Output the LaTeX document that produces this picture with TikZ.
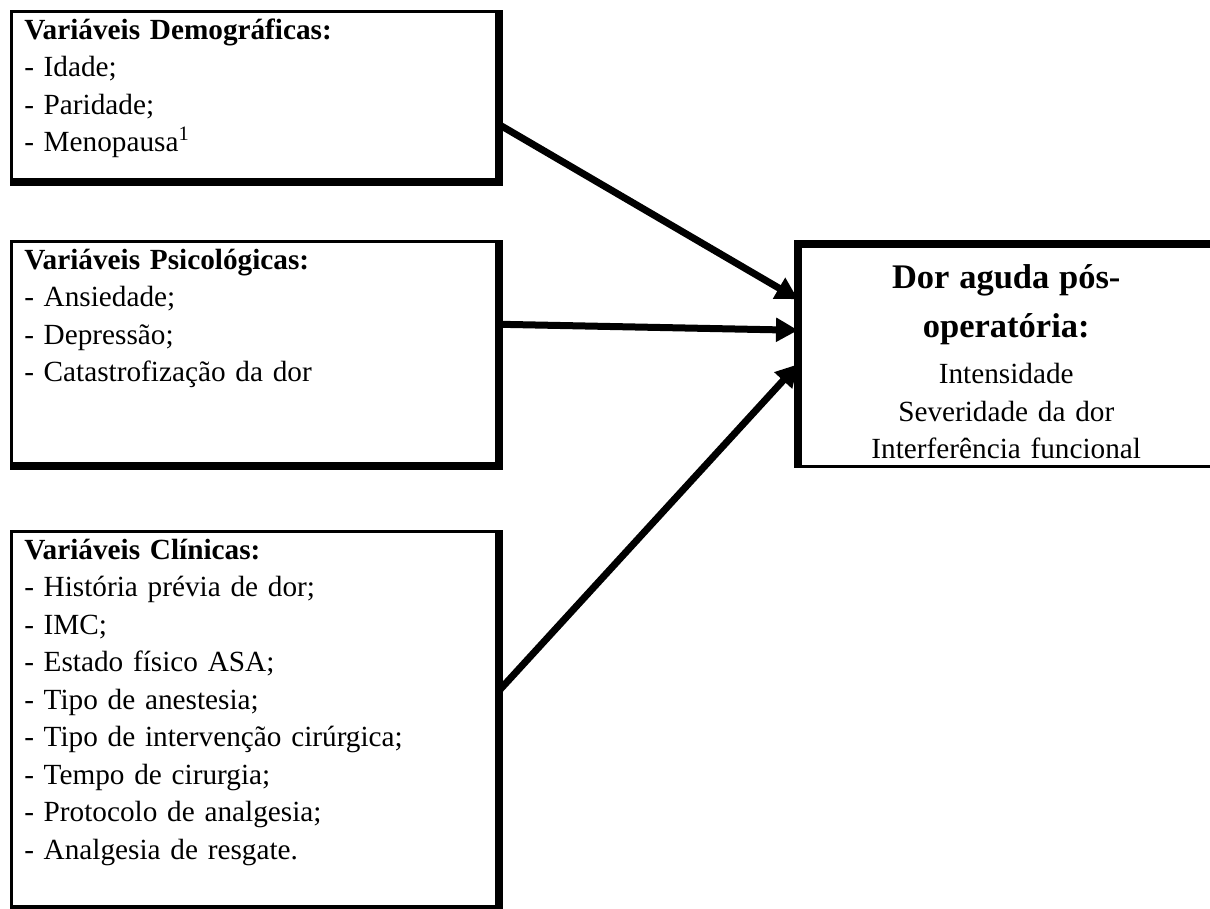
\documentclass[tikz,border=0pt]{standalone}
\usepackage{fontspec}
\setmainfont{Liberation Serif}[WordSpace=0.7]
\usetikzlibrary{arrows.meta}

\tikzset{
  varbox/.style={draw, line width=1pt, anchor=north west, inner sep=0pt, inner xsep=5.2pt,
    text width=184pt, text height=11.2pt, font=\fontsize{11.7}{15}\selectfont},
  dorbox/.style={draw, line width=1pt, anchor=north west, inner sep=0pt,
    text width=165.6pt, text height=17.2pt, text depth=71.2pt,
    font=\fontsize{11.7}{15}\selectfont},
  shadowline/.style={line width=3.2pt},
  seta/.style={line width=2.8pt, -{Triangle[length=8.8pt,width=9.2pt]}}
}

\begin{document}
\begin{tikzpicture}[x=0.4pt, y=-0.4pt]
            \useasboundingbox (0,0) rectangle (1210,908);
            \node[varbox, text depth=56.4pt] (demo) at (10,10)
                {\textbf{Variáveis Demográficas:}\\- Idade;\\- Paridade;\\- Menopausa\textsuperscript{1}};
            \node[varbox, text depth=78pt] (psico) at (10,240)
                {\textbf{Variáveis Psicológicas:}\\- Ansiedade;\\- Depressão;\\- Catastrofização da dor};
            \node[varbox, text depth=139.2pt] (clin) at (10,530)
                {\textbf{Variáveis Clínicas:}\\- História prévia de dor;\\- IMC;\\- Estado físico ASA;\\- Tipo de anestesia;\\- Tipo de intervenção cirúrgica;\\- Tempo de cirurgia;\\- Protocolo de analgesia;\\- Analgesia de resgate.};
            \node[dorbox] (dor) at (798,244)
                {\centering{\fontsize{13.8}{19.6}\selectfont\bfseries Dor aguda pós-\\operatória:\par}\vspace{3.6pt}Intensidade\\Severidade da dor\\Interferência funcional\par};
            \foreach \b in {demo,psico,clin}
                \draw[shadowline] (\b.north east) -- (\b.south east) -- (\b.south west);
            \draw[shadowline] (dor.south west) -- (dor.north west) -- (dor.north east);
            \draw[seta] ([yshift=-11.4pt]demo.east) -- ([yshift=22.6pt]dor.west);
            \draw[seta] ([yshift=11.4pt]psico.east) -- ([yshift=10.2pt]dor.west);
            \draw[seta] ([yshift=11.2pt]clin.east) -- ([yshift=-3.4pt]dor.west);
        \end{tikzpicture}
\end{document}
